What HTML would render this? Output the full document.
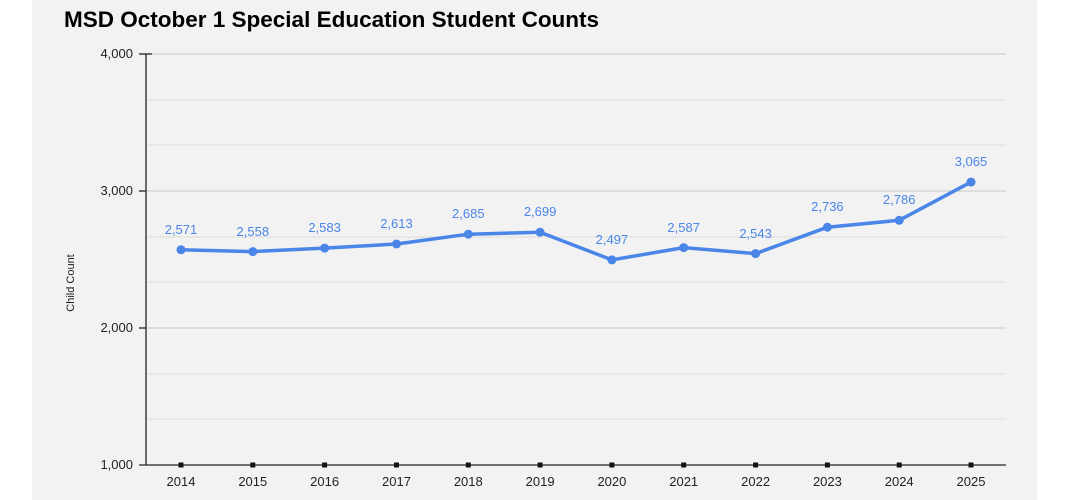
<!DOCTYPE html>
<html><head><style>
body{margin:0;background:#fff;}
svg{display:block;font-family:"Liberation Sans",Arial,sans-serif;}
</style></head><body>
<svg width="1069" height="500" xmlns="http://www.w3.org/2000/svg">
<rect x="32" y="0" width="1005" height="500" fill="#f2f2f2"/>
<text x="64" y="27" font-size="22.5" font-weight="bold" fill="#000">MSD October 1 Special Education Student Counts</text>
<g stroke="#dcdcdc" stroke-width="1">
<line x1="146" y1="54" x2="1006" y2="54" stroke="#c8c8c8"/>
<line x1="146" y1="100" x2="1006" y2="100"/>
<line x1="146" y1="145" x2="1006" y2="145"/>
<line x1="146" y1="191" x2="1006" y2="191" stroke="#c8c8c8"/>
<line x1="146" y1="237" x2="1006" y2="237"/>
<line x1="146" y1="282" x2="1006" y2="282"/>
<line x1="146" y1="328" x2="1006" y2="328" stroke="#c8c8c8"/>
<line x1="146" y1="374" x2="1006" y2="374"/>
<line x1="146" y1="419" x2="1006" y2="419"/>
</g>
<g stroke="#222" stroke-width="1.3">
<line x1="146" y1="54" x2="146" y2="465"/>
<line x1="139" y1="465" x2="1006" y2="465"/>
<line x1="139" y1="54" x2="152" y2="54"/>
<line x1="139" y1="191" x2="146" y2="191"/>
<line x1="139" y1="328" x2="146" y2="328"/>
</g>
<g font-size="13" fill="#222" text-anchor="end">
<text x="133" y="58">4,000</text>
<text x="133" y="195">3,000</text>
<text x="133" y="332">2,000</text>
<text x="133" y="469">1,000</text>
</g>
<text transform="translate(74,283) rotate(-90)" font-size="11" text-anchor="middle" fill="#222">Child Count</text>
<polyline points="181,249.8 252.8,251.6 324.6,248.1 396.5,244.0 468.3,234.2 540.1,232.2 611.9,259.9 683.7,247.6 755.6,253.6 827.4,227.2 899.2,220.3 971,182.1" fill="none" stroke="#4a86e8" stroke-width="3.5" stroke-linejoin="round"/>
<g fill="#4a86e8">
<circle cx="181" cy="249.8" r="4.5"/><circle cx="252.8" cy="251.6" r="4.5"/><circle cx="324.6" cy="248.1" r="4.5"/><circle cx="396.5" cy="244" r="4.5"/><circle cx="468.3" cy="234.2" r="4.5"/><circle cx="540.1" cy="232.2" r="4.5"/><circle cx="611.9" cy="259.9" r="4.5"/><circle cx="683.7" cy="247.6" r="4.5"/><circle cx="755.6" cy="253.6" r="4.5"/><circle cx="827.4" cy="227.2" r="4.5"/><circle cx="899.2" cy="220.3" r="4.5"/><circle cx="971" cy="182.1" r="4.5"/>
</g>
<g fill="#4a86e8" font-size="13" text-anchor="middle">
<text x="181" y="234">2,571</text><text x="252.8" y="236">2,558</text><text x="324.6" y="232">2,583</text><text x="396.5" y="228">2,613</text><text x="468.3" y="218">2,685</text><text x="540.1" y="216">2,699</text><text x="611.9" y="244">2,497</text><text x="683.7" y="232">2,587</text><text x="755.6" y="238">2,543</text><text x="827.4" y="211">2,736</text><text x="899.2" y="204">2,786</text><text x="971" y="166">3,065</text>
</g>
<g fill="#111">
<rect x="178.5" y="462.5" width="5" height="5"/><rect x="250.3" y="462.5" width="5" height="5"/><rect x="322.1" y="462.5" width="5" height="5"/><rect x="394" y="462.5" width="5" height="5"/><rect x="465.8" y="462.5" width="5" height="5"/><rect x="537.6" y="462.5" width="5" height="5"/><rect x="609.4" y="462.5" width="5" height="5"/><rect x="681.2" y="462.5" width="5" height="5"/><rect x="753.1" y="462.5" width="5" height="5"/><rect x="824.9" y="462.5" width="5" height="5"/><rect x="896.7" y="462.5" width="5" height="5"/><rect x="968.5" y="462.5" width="5" height="5"/>
</g>
<g fill="#222" font-size="13" text-anchor="middle">
<text x="181" y="486">2014</text><text x="252.8" y="486">2015</text><text x="324.6" y="486">2016</text><text x="396.5" y="486">2017</text><text x="468.3" y="486">2018</text><text x="540.1" y="486">2019</text><text x="611.9" y="486">2020</text><text x="683.7" y="486">2021</text><text x="755.6" y="486">2022</text><text x="827.4" y="486">2023</text><text x="899.2" y="486">2024</text><text x="971" y="486">2025</text>
</g>
</svg>
</body></html>
